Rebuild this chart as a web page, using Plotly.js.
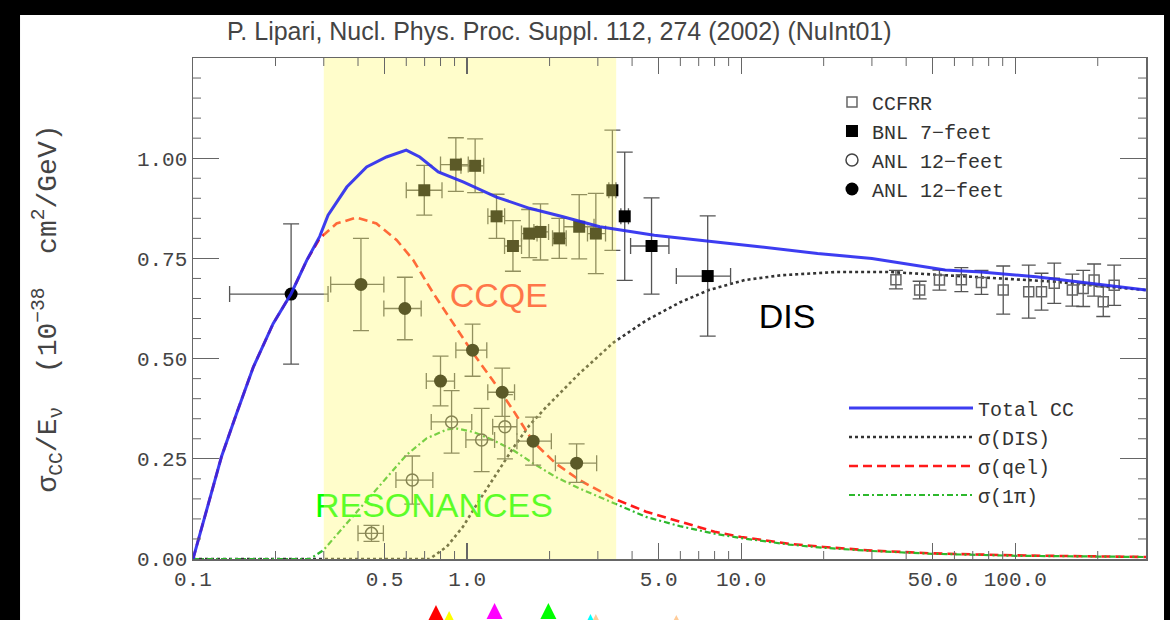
<!DOCTYPE html>
<html><head><meta charset="utf-8">
<script src="https://cdn.plot.ly/plotly-3.0.1.min.js"></script>
<style>html,body{margin:0;padding:0;background:#000;} #chart{width:1170px;height:620px;}</style>
</head><body><div id="chart"></div>
<script>
// ---------- curves (E in GeV, sigma/E in 1e-38 cm^2/GeV) ----------
const totalE = [0.1, 0.127, 0.144, 0.166, 0.196, 0.228, 0.26, 0.29, 0.311, 0.364, 0.43, 0.508, 0.6, 0.672, 0.785, 0.967, 1.28, 1.69, 2.24, 3.05, 4.82, 7.62, 11, 19, 30, 55.5, 75, 119, 188, 300];
const totalCC = [0, 0.255, 0.362, 0.479, 0.587, 0.662, 0.745, 0.805, 0.858, 0.928, 0.978, 1.003, 1.02, 1.003, 0.966, 0.941, 0.903, 0.875, 0.854, 0.829, 0.808, 0.794, 0.781, 0.762, 0.75, 0.721, 0.716, 0.704, 0.688, 0.671];

const disE = [0.1, 0.73, 0.844, 0.967, 1.11, 1.28, 1.47, 1.69, 1.95, 2.57, 3.42, 4.5, 5.97, 7.62, 10.3, 14, 22.2, 35.1, 55.5, 87.5, 139, 219, 300];
const disXS = [0, 0, 0.031, 0.081, 0.147, 0.214, 0.276, 0.334, 0.38, 0.463, 0.54, 0.595, 0.64, 0.671, 0.696, 0.708, 0.716, 0.716, 0.708, 0.7, 0.692, 0.679, 0.671];

const qelE = [0.1, 0.127, 0.144, 0.166, 0.196, 0.228, 0.26, 0.29, 0.334, 0.396, 0.467, 0.553, 0.636, 0.753, 0.89, 1.053, 1.24, 1.47, 1.74, 2.1, 2.57, 3.42, 4.5, 5.97, 8, 10, 15, 20, 30, 50, 100, 300];
const qelXS = [0, 0.255, 0.362, 0.479, 0.587, 0.662, 0.745, 0.8, 0.837, 0.852, 0.837, 0.796, 0.746, 0.663, 0.588, 0.513, 0.446, 0.372, 0.293, 0.239, 0.197, 0.151, 0.118, 0.093, 0.068, 0.055, 0.038, 0.03, 0.021, 0.014, 0.009, 0.005];

const resE = [0.1, 0.267, 0.299, 0.364, 0.43, 0.508, 0.6, 0.711, 0.844, 0.91, 1.053, 1.24, 1.47, 1.74, 2.1, 2.57, 3.42, 4.5, 5.97, 8, 10, 15, 20, 30, 50, 100, 300];
const resXS = [0, 0, 0.022, 0.089, 0.147, 0.205, 0.259, 0.301, 0.323, 0.326, 0.317, 0.297, 0.272, 0.239, 0.205, 0.176, 0.139, 0.105, 0.082, 0.063, 0.052, 0.036, 0.028, 0.02, 0.013, 0.008, 0.005];

// ---------- data points ----------
const ccfrrE = [36.7, 44.8, 52.9, 63.6, 75.3, 90.4, 112, 124.7, 138.8, 161.6, 177, 194, 209.5, 229.6];
const ccfrrXS = [0.697, 0.671, 0.696, 0.697, 0.69, 0.671, 0.667, 0.667, 0.688, 0.671, 0.675, 0.696, 0.642, 0.683];
const ccfrrErr = [0.023, 0.022, 0.025, 0.03, 0.03, 0.06, 0.066, 0.046, 0.05, 0.04, 0.045, 0.04, 0.037, 0.05];

const bnlE = [0.698, 0.91, 1.07, 1.281, 1.47, 1.685, 1.853, 2.17, 2.565, 2.95, 3.39, 3.76, 4.71, 7.55];
const bnlXS = [0.92, 0.984, 0.981, 0.855, 0.781, 0.812, 0.816, 0.80, 0.829, 0.812, 0.92, 0.855, 0.781, 0.706];
const bnlErr = [0.062, 0.067, 0.067, 0.055, 0.063, 0.06, 0.07, 0.05, 0.08, 0.1, 0.15, 0.16, 0.12, 0.15];
const bnlEminus = [0.098, 0.11, 0.12, 0.09, 0.10, 0.105, 0.10, 0.12, 0.31, 0.2, 0.1, 0.12, 0.76, 1.75];
const bnlEplus = [0.112, 0.10, 0.08, 0.09, 0.11, 0.115, 0.13, 0.13, 0.34, 0.25, 0.1, 0.12, 0.74, 1.6];

const anlOpenE = [0.448, 0.631, 0.878, 1.13, 1.374];
const anlOpenXS = [0.064, 0.197, 0.342, 0.297, 0.33];
const anlOpenErr = [0.02, 0.06, 0.078, 0.079, 0.08];
const anlOpenEminus = [0.048, 0.081, 0.138, 0.14, 0.134];
const anlOpenEplus = [0.047, 0.119, 0.162, 0.13, 0.146];

const anlFillE = [0.228, 0.41, 0.593, 0.80, 1.047, 1.343, 1.742, 2.51];
const anlFillXS = [0.661, 0.685, 0.625, 0.444, 0.521, 0.416, 0.294, 0.239];
const anlFillErr = [0.175, 0.115, 0.078, 0.062, 0.065, 0.06, 0.06, 0.048];
const anlFillEminus = [0.092, 0.092, 0.096, 0.09, 0.137, 0.153, 0.222, 0.41];
const anlFillEplus = [0.083, 0.087, 0.087, 0.10, 0.133, 0.147, 0.288, 0.46];

// ---------- shaded region (GeV) ----------
const bandE = [0.3, 3.5];

// ---------- axis ticks ----------
const xTickVals = [0.1, 0.5, 1, 5, 10, 50, 100];
const xTickText = ['0.1', '0.5', '1.0', '5.0', '10.0', '50.0', '100.0'];
const xMinorVals = [0.2, 0.3, 0.4, 0.6, 0.7, 0.8, 0.9, 2, 3, 4, 6, 7, 8, 9, 20, 30, 40, 60, 70, 80, 90, 200];
const yTickVals = [0, 0.25, 0.5, 0.75, 1.0];
const yTickText = ['0.00', '0.25', '0.50', '0.75', '1.00'];
const yMinorVals = [0.05, 0.10, 0.15, 0.20, 0.30, 0.35, 0.40, 0.45, 0.55, 0.60, 0.65, 0.70, 0.80, 0.85, 0.90, 0.95, 1.05, 1.10, 1.15, 1.20];

// ---------- energy markers below the axis ----------
const arrowE = [0.77, 0.86, 1.26, 1.98, 2.82, 2.95, 5.8];
const arrowColors = ['#ff0000', '#ffff00', '#ff00ff', '#00ff00', '#00ffff', '#ffcc99', '#ffcc99'];

// ---------- region labels ----------
const labelText = ['CCQE', 'DIS', 'RESONANCES'];
const labelE = [1.306, 14.7, 0.757];
const labelXS = [0.651, 0.598, 0.127];

const mono = 'Liberation Mono, Courier New, monospace';
const sans = 'Liberation Sans, Arial, sans-serif';
const errCol = '#555';
const axLine = '#666';
const Y = 1.25;

const traces = [
  {x: disE, y: disXS, mode: 'lines', name: 'σ(DIS)', legend: 'legend2', legendrank: 2,
   line: {color: '#333', width: 2.6, dash: '3px,3px'}},
  {x: qelE, y: qelXS, mode: 'lines', name: 'σ(qel)', legend: 'legend2', legendrank: 3,
   line: {color: '#ff1a1a', width: 2.6, dash: '9px,5px'}},
  {x: resE, y: resXS, mode: 'lines', name: 'σ(1π)', legend: 'legend2', legendrank: 4,
   line: {color: '#2db82d', width: 2.2, dash: '6px,3px,2px,3px'}},

  {x: ccfrrE, y: ccfrrXS, mode: 'markers', name: 'CCFRR', legend: 'legend', legendrank: 1,
   marker: {symbol: 'square-open', size: 10, color: '#666', line: {width: 1.5, color: '#666'}},
   error_y: {type: 'data', array: ccfrrErr, color: errCol, thickness: 1.3, width: 7}},
  {x: bnlE, y: bnlXS, mode: 'markers', name: 'BNL 7\u2212feet', legend: 'legend', legendrank: 2,
   marker: {symbol: 'square', size: 12, color: '#000'},
   error_y: {type: 'data', array: bnlErr, color: errCol, thickness: 1.3, width: 8},
   error_x: {type: 'data', symmetric: false, array: bnlEplus, arrayminus: bnlEminus, color: errCol, thickness: 1.3, width: 8}},
  {x: anlOpenE, y: anlOpenXS, mode: 'markers', name: 'ANL 12\u2212feet', legend: 'legend', legendrank: 3,
   marker: {symbol: 'circle-open', size: 12, color: '#444', line: {width: 1.5, color: '#444'}},
   error_y: {type: 'data', array: anlOpenErr, color: errCol, thickness: 1.3, width: 8},
   error_x: {type: 'data', symmetric: false, array: anlOpenEplus, arrayminus: anlOpenEminus, color: errCol, thickness: 1.3, width: 8}},
  {x: anlFillE, y: anlFillXS, mode: 'markers', name: 'ANL 12\u2212feet ', legend: 'legend', legendrank: 4,
   marker: {symbol: 'circle', size: 13, color: '#000'},
   error_y: {type: 'data', array: anlFillErr, color: errCol, thickness: 1.3, width: 8},
   error_x: {type: 'data', symmetric: false, array: anlFillEplus, arrayminus: anlFillEminus, color: errCol, thickness: 1.3, width: 8}},

  {x: labelE, y: labelXS, mode: 'text', text: labelText, showlegend: false, hoverinfo: 'skip',
   cliponaxis: false,
   textfont: {family: sans, size: 34, color: ['rgb(255,45,53)', '#000', 'rgb(0,255,0)']}},

  // translucent yellow band laid over the points, labels and partial curves (overlay subplot)
  {x: [bandE[0], bandE[1], bandE[1], bandE[0], bandE[0]], y: [0, 0, Y, Y, 0], xaxis: 'x2', yaxis: 'y2',
   mode: 'lines', fill: 'toself', fillcolor: 'rgba(255,250,110,0.36)', line: {width: 0},
   showlegend: false, hoverinfo: 'skip'},

  {x: totalE, y: totalCC, xaxis: 'x2', yaxis: 'y2', mode: 'lines', name: 'Total CC',
   legend: 'legend2', legendrank: 1,
   line: {color: 'rgb(40,40,240)', width: 3}, opacity: 0.9},

  // coloured energy markers in a thin strip below the x axis
  {x: arrowE, y: [0.88, 0.53, 1.0, 1.0, 0.35, 0.35, 0.3], xaxis: 'x', yaxis: 'y3', mode: 'markers',
   showlegend: false, hoverinfo: 'skip', cliponaxis: false,
   marker: {symbol: 'arrow-up', size: 16, color: arrowColors, line: {width: 0}}}
];

const plotH = 562, plotW = 953;
const mainDom = [61 / plotH, 1];
const minorLenX = 8 / plotH, minorLenY = 8 / plotW;

// minor tick marks (inside, on all four sides), built from the tick arrays
const minorTicks = [];
xMinorVals.forEach(v => {
  minorTicks.push({type: 'line', xref: 'x', yref: 'paper', x0: v, x1: v, y0: mainDom[0], y1: mainDom[0] + minorLenX,
                   line: {color: axLine, width: 1}});
  minorTicks.push({type: 'line', xref: 'x', yref: 'paper', x0: v, x1: v, y0: 1 - minorLenX, y1: 1,
                   line: {color: axLine, width: 1}});
});
yMinorVals.forEach(v => {
  minorTicks.push({type: 'line', xref: 'paper', yref: 'y', x0: 0, x1: minorLenY, y0: v, y1: v,
                   line: {color: axLine, width: 1}});
  minorTicks.push({type: 'line', xref: 'paper', yref: 'y', x0: 1 - minorLenY, x1: 1, y0: v, y1: v,
                   line: {color: axLine, width: 1}});
});

const layout = {
  width: 1170, height: 620,
  margin: {l: 193, r: 24, t: 58, b: 0},
  paper_bgcolor: '#000', plot_bgcolor: '#fff',
  title: {text: 'P. Lipari, Nucl. Phys. Proc. Suppl. 112, 274 (2002) (NuInt01)',
          font: {family: sans, size: 25, color: '#444'},
          x: 0.478, xref: 'container', xanchor: 'center', y: 0.95, yref: 'container', yanchor: 'middle'},
  showlegend: true,
  xaxis: {type: 'log', range: [-1, Math.log10(300)], showgrid: false, zeroline: false, anchor: 'y',
          tickmode: 'array', tickvals: xTickVals, ticktext: xTickText,
          ticks: 'inside', ticklen: 16, tickwidth: 1.2, tickcolor: axLine,
          showline: true, linecolor: axLine, linewidth: 1.5, mirror: 'ticks',
          tickfont: {family: mono, size: 21, color: '#444'}},
  xaxis2: {type: 'log', range: [-1, Math.log10(300)], overlaying: 'x', anchor: 'y2',
           showgrid: false, zeroline: false, showline: false, showticklabels: false, ticks: ''},
  yaxis: {range: [0, Y], domain: mainDom, showgrid: false, zeroline: false, anchor: 'x',
          tickmode: 'array', tickvals: yTickVals, ticktext: yTickText,
          ticks: 'inside', ticklen: 26, tickwidth: 1.2, tickcolor: axLine,
          showline: true, linecolor: axLine, linewidth: 1.5, mirror: 'ticks',
          tickfont: {family: mono, size: 21, color: '#444'},
          title: {text: 'σ<sub>CC</sub>/E<sub>ν</sub>\u00a0\u00a0(10<sup>\u221238</sup>\u00a0\u00a0cm<sup>2</sup>/GeV)',
                  font: {family: mono, size: 28, color: '#444'}, standoff: 72}},
  yaxis2: {range: [0, Y], overlaying: 'y', anchor: 'x2',
           showgrid: false, zeroline: false, showline: false, showticklabels: false, ticks: ''},
  yaxis3: {range: [0, 1], domain: [0, 17 / plotH], anchor: 'x', visible: false, fixedrange: true},
  legend: {x: 0.6705, xanchor: 'left', y: 0.9564, yanchor: 'top', bgcolor: 'rgba(0,0,0,0)',
           font: {family: mono, size: 20, color: '#333'}, itemwidth: 30, tracegroupgap: 0},
  legend2: {x: 0.6831, xanchor: 'left', y: 0.4119, yanchor: 'top', bgcolor: 'rgba(0,0,0,0)',
            font: {family: mono, size: 20, color: '#333'}, itemwidth: 124, tracegroupgap: 0},
  shapes: [
    {type: 'rect', layer: 'below', xref: 'paper', yref: 'paper',
     x0: -0.1815, x1: 1.0189, y0: -0.1, y1: 1.0765, fillcolor: '#fff', line: {width: 0}}
  ].concat(minorTicks)
};

Plotly.newPlot('chart', traces, layout, {displayModeBar: false, staticPlot: true});
</script></body></html>
